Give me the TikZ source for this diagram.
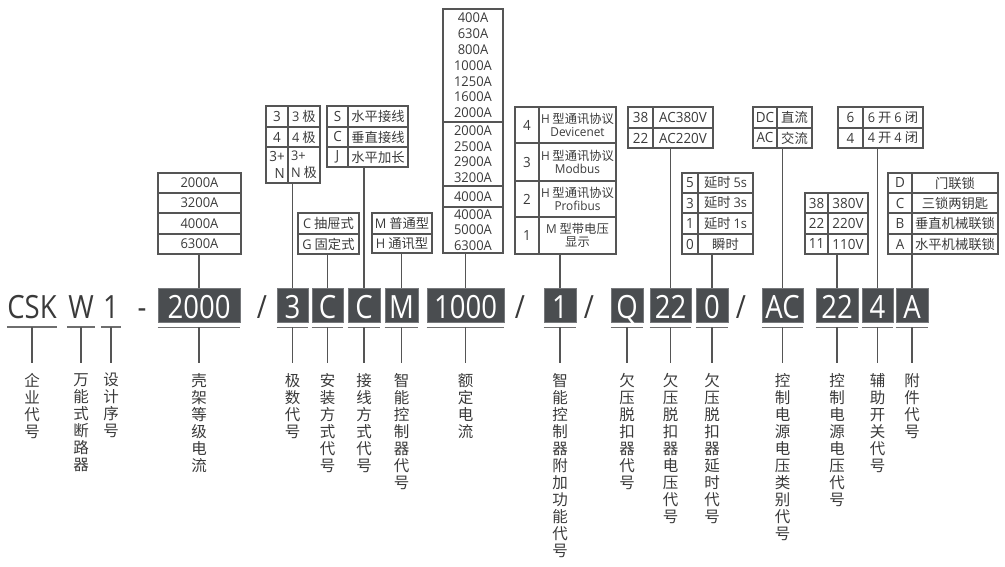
\documentclass[tikz,border=0pt]{standalone}
\usepackage{fontspec}
\setmainfont{Noto Sans CJK SC}
\newfontfamily\codefont[FakeStretch=0.86]{Open Sans}
\newfontfamily\latf[FakeStretch=0.96]{Open Sans}
\definecolor{boxc}{HTML}{4A4D50}
\definecolor{linec}{HTML}{555555}
\definecolor{txtc}{HTML}{3A3A3A}
\newcommand\cellfnt{\fontsize{13.3}{14}\selectfont}
\newcommand\cellfntB{\fontsize{13.3}{17}\selectfont}
\newcommand\latcell{\latf\fontsize{13.5}{14}\selectfont}
\newcommand\latA{\latf\fontsize{13.5}{15.8}\selectfont}
\newcommand\latB{\latf\fontsize{13.5}{15.6}\selectfont}
\newcommand\latC{\latf\fontsize{13.5}{15.2}\selectfont}
\newcommand\keyfnt{\latf\fontsize{14}{14}\selectfont}
\newcommand\keyfntB{\latf\fontsize{14}{17}\selectfont}
\newcommand\funfnt{\fontsize{12.3}{12.8}\selectfont}
\newcommand\lat[1]{{\latf #1}}
\newcommand\codefnt{\codefont\fontsize{32}{32}\selectfont}
\newcommand\labfnt{\fontsize{15.5}{17}\selectfont}
\newcommand\cellnode[7][]{%
  \pgfmathsetmacro\cwid{#5-#3}%
  \pgfmathsetmacro\chei{#6-#4}%
  \node[cellbox,#1,minimum width=\cwid pt,minimum height=\chei pt] (#2) at ({(#3+#5)/2},{(#4+#6)/2}) {#7};}
\newcommand\codenode[5][codebox]{%
  \pgfmathsetmacro\cwid{#4-#3}%
  \node[#1,minimum width=\cwid pt] (#2) at ({(#3+#4)/2},305) {#5};
  \draw[uline] ([yshift=-5pt]#2.south west) -- ([yshift=-5pt]#2.south east);}
\newcommand\vlabel[4]{%
  \node[vlab] (#1) at (#3,373) {#4};
  \draw[tick] ([yshift=-5pt]#2.south) -- ([yshift=10pt]#1.north);}
\begin{document}
\begin{tikzpicture}[x=1pt,y=-1pt,
  cellbox/.style={draw=linec,line width=1.2pt,inner sep=0pt,align=center,font=\cellfnt,text=txtc},
  key/.style={font=\keyfnt},
  lc/.style={font=\latcell},
  codebox/.style={fill=boxc,draw=boxc!75!white,line width=0.8pt,text=white,font=\codefnt,minimum height=34pt,inner sep=0pt,text height=26pt,text depth=0pt},
  codeplain/.style={text=txtc,font=\codefnt,minimum height=34pt,inner sep=0pt,text height=26pt,text depth=0pt},
  sep/.style={text=txtc,font=\codefnt,inner sep=0pt,text height=26pt,text depth=0pt},
  tick/.style={draw=linec,line width=1.3pt},
  uline/.style={draw=linec!85,line width=1.5pt},
  vlab/.style={anchor=north,inner sep=0pt,align=center,font=\labfnt,text=txtc}]
\useasboundingbox (0,0) rectangle (1005,567);
% ---------- code row ----------
\codenode[codeplain]{cA}{7}{57}{CSK}
\codenode[codeplain]{cB}{67}{95}{W}
\codenode[codeplain]{cC}{101}{121}{1}
\node[sep] (s1) at (142,305) {-};
\codenode{cD}{158}{240}{2000}
\node[sep] (s2) at (262,305) {/};
\codenode{cE}{277}{308}{3}
\codenode{cF}{312}{343}{C}
\codenode{cG}{348}{380}{C}
\codenode{cH}{385}{418}{M}
\codenode{cI}{427}{504}{1000}
\node[sep] (s3) at (520,305) {/};
\codenode{cJ}{544}{576}{1}
\node[sep] (s4) at (589,305) {/};
\codenode{cK}{611}{643}{Q}
\codenode{cL}{650}{691}{22}
\codenode{cM}{696}{728}{0}
\node[sep] (s5) at (741,305) {/};
\codenode{cN}{762}{803}{AC}
\codenode{cO}{816}{858}{22}
\codenode{cP}{862}{893}{4}
\codenode{cQ}{896}{928}{A}
% ---------- bottom labels ----------
\vlabel{lA}{cA}{32}{企\\业\\代\\号}
\vlabel{lB}{cB}{81}{万\\能\\式\\断\\路\\器}
\vlabel{lC}{cC}{111}{设\\计\\序\\号}
\vlabel{lD}{cD}{199}{壳\\架\\等\\级\\电\\流}
\vlabel{lE}{cE}{292.5}{极\\数\\代\\号}
\vlabel{lF}{cF}{327.5}{安\\装\\方\\式\\代\\号}
\vlabel{lG}{cG}{364}{接\\线\\方\\式\\代\\号}
\vlabel{lH}{cH}{401.5}{智\\能\\控\\制\\器\\代\\号}
\vlabel{lI}{cI}{465.5}{额\\定\\电\\流}
\vlabel{lJ}{cJ}{560}{智\\能\\控\\制\\器\\附\\加\\功\\能\\代\\号}
\vlabel{lK}{cK}{627}{欠\\压\\脱\\扣\\器\\代\\号}
\vlabel{lL}{cL}{670.5}{欠\\压\\脱\\扣\\器\\电\\压\\代\\号}
\vlabel{lM}{cM}{712}{欠\\压\\脱\\扣\\器\\延\\时\\代\\号}
\vlabel{lN}{cN}{782.5}{控\\制\\电\\源\\电\\压\\类\\别\\代\\号}
\vlabel{lO}{cO}{837}{控\\制\\电\\源\\电\\压\\代\\号}
\vlabel{lP}{cP}{877.5}{辅\\助\\开\\关\\代\\号}
\vlabel{lQ}{cQ}{912}{附\\件\\代\\号}
% ---------- top tables ----------
% frame current
\cellnode[lc]{a1}{158}{173}{241}{193}{2000A}
\cellnode[lc]{a2}{158}{193}{241}{213}{3200A}
\cellnode[lc]{a3}{158}{213}{241}{234}{4000A}
\cellnode[lc]{a4}{158}{234}{241}{254}{6300A}
% poles
\cellnode[key]{b1k}{266}{106}{288}{127}{3}
\cellnode{b1v}{288}{106}{320}{127}{\lat{3} 极}
\cellnode[key]{b2k}{266}{127}{288}{147}{4}
\cellnode{b2v}{288}{127}{320}{147}{\lat{4} 极}
\cellnode[align=right,font=\keyfntB]{b3k}{266}{147}{288}{183}{3+\\N}
\cellnode[align=left,font=\cellfntB]{b3v}{288}{147}{320}{183}{\lat{3+}\\\lat{N} 极}
% wiring
\cellnode[key]{w1k}{327}{106}{348}{127}{S}
\cellnode{w1v}{348}{106}{408}{127}{水平接线}
\cellnode[key]{w2k}{327}{127}{348}{147}{C}
\cellnode{w2v}{348}{127}{408}{147}{垂直接线}
\cellnode[key]{w3k}{327}{147}{348}{167}{J}
\cellnode{w3v}{348}{147}{408}{167}{水平加长}
% installation
\cellnode{i1}{298}{213}{359}{234}{\lat{C} 抽屉式}
\cellnode{i2}{298}{234}{359}{254}{\lat{G} 固定式}
% controller
\cellnode{m1}{372}{213}{432}{234}{\lat{M} 普通型}
\cellnode{m2}{372}{234}{432}{253}{\lat{H} 通讯型}
% rated current
\cellnode[font=\latA]{r1}{443}{9}{503}{122}{400A\\630A\\800A\\1000A\\1250A\\1600A\\2000A}
\cellnode[font=\latB]{r2}{443}{122}{503}{186}{2000A\\2500A\\2900A\\3200A}
\cellnode[lc]{r3}{443}{186}{503}{207}{4000A}
\cellnode[font=\latC]{r4}{443}{207}{503}{253}{4000A\\5000A\\6300A}
% controller functions
\cellnode[key]{f1k}{515}{107}{539}{143}{4}
\cellnode[font=\funfnt]{f1v}{539}{107}{616}{143}{\lat{H} 型通讯协议\\\lat{Devicenet}}
\cellnode[key]{f2k}{515}{143}{539}{181}{3}
\cellnode[font=\funfnt]{f2v}{539}{143}{616}{181}{\lat{H} 型通讯协议\\\lat{Modbus}}
\cellnode[key]{f3k}{515}{181}{539}{217}{2}
\cellnode[font=\funfnt]{f3v}{539}{181}{616}{217}{\lat{H} 型通讯协议\\\lat{Profibus}}
\cellnode[key]{f4k}{515}{217}{539}{254}{1}
\cellnode[font=\funfnt]{f4v}{539}{217}{616}{254}{\lat{M} 型带电压\\显示}
% undervoltage voltage
\cellnode[key]{v1k}{628}{107}{653}{128}{38}
\cellnode[key]{v1v}{653}{107}{713}{128}{AC380V}
\cellnode[key]{v2k}{628}{128}{653}{148}{22}
\cellnode[key]{v2v}{653}{128}{713}{148}{AC220V}
% delay
\cellnode[key]{d1k}{682}{173}{698}{193}{5}
\cellnode{d1v}{698}{173}{753}{193}{延时 \lat{5s}}
\cellnode[key]{d2k}{682}{193}{698}{213}{3}
\cellnode{d2v}{698}{193}{753}{213}{延时 \lat{3s}}
\cellnode[key]{d3k}{682}{213}{698}{234}{1}
\cellnode{d3v}{698}{213}{753}{234}{延时 \lat{1s}}
\cellnode[key]{d4k}{682}{234}{698}{254}{0}
\cellnode{d4v}{698}{234}{753}{254}{瞬时}
% AC/DC
\cellnode[key]{e1k}{753}{107}{777}{128}{DC}
\cellnode{e1v}{777}{107}{812}{128}{直流}
\cellnode[key]{e2k}{753}{128}{777}{148}{AC}
\cellnode{e2v}{777}{128}{812}{148}{交流}
% control voltage
\cellnode[key]{g1k}{805}{193}{828}{213}{38}
\cellnode[key]{g1v}{828}{193}{868}{213}{380V}
\cellnode[key]{g2k}{805}{213}{828}{234}{22}
\cellnode[key]{g2v}{828}{213}{868}{234}{220V}
\cellnode[key]{g3k}{805}{234}{828}{254}{11}
\cellnode[key]{g3v}{828}{234}{868}{254}{110V}
% aux switch
\cellnode[key]{h1k}{838}{107}{863}{128}{6}
\cellnode{h1v}{863}{107}{923}{128}{\lat{6} 开 \lat{6} 闭}
\cellnode[key]{h2k}{838}{128}{863}{148}{4}
\cellnode{h2v}{863}{128}{923}{148}{\lat{4} 开 \lat{4} 闭}
% accessories
\cellnode[key]{k1k}{888}{173}{912}{193}{D}
\cellnode{k1v}{912}{173}{998}{193}{门联锁}
\cellnode[key]{k2k}{888}{193}{912}{213}{C}
\cellnode{k2v}{912}{193}{998}{213}{三锁两钥匙}
\cellnode[key]{k3k}{888}{213}{912}{234}{B}
\cellnode{k3v}{912}{213}{998}{234}{垂直机械联锁}
\cellnode[key]{k4k}{888}{234}{912}{254}{A}
\cellnode{k4v}{912}{234}{998}{254}{水平机械联锁}
% ---------- connectors from tables to codes ----------
\draw[tick] (cD.north) -- (cD.north |- a4.south);
\draw[tick] (cE.north) -- (cE.north |- b3v.south);
\draw[tick] (cF.north) -- (cF.north |- i2.south);
\draw[tick] (cG.north) -- (cG.north |- w3v.south);
\draw[tick] (cH.north) -- (cH.north |- m2.south);
\draw[tick] (cI.north) -- (cI.north |- r4.south);
\draw[tick] (cJ.north) -- (cJ.north |- f4v.south);
\draw[tick] (cL.north) -- (cL.north |- v2v.south);
\draw[tick] (cM.north) -- (cM.north |- d4v.south);
\draw[tick] (cN.north) -- (cN.north |- e2v.south);
\draw[tick] (cO.north) -- (cO.north |- g3v.south);
\draw[tick] (cP.north) -- (cP.north |- h2v.south);
\draw[tick] (cQ.north) -- (cQ.north |- k4v.south);
\end{tikzpicture}
\end{document}
